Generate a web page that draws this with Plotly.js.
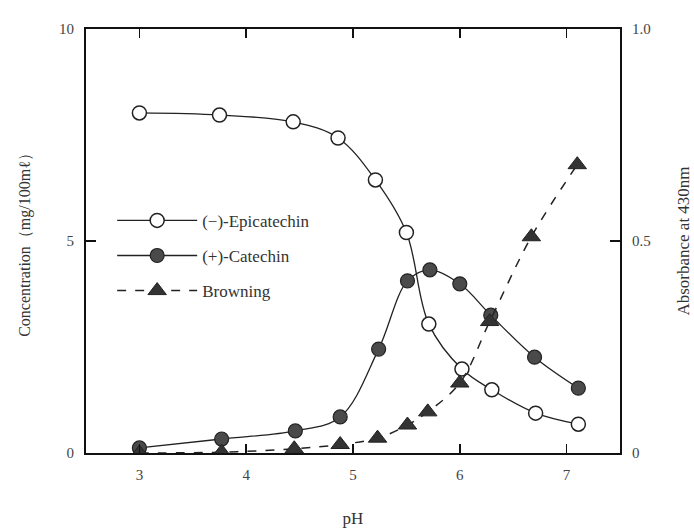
<!DOCTYPE html>
<html>
<head>
<meta charset="utf-8">
<script src="https://cdn.plot.ly/plotly-3.0.1.min.js"></script>
<style>html,body{margin:0;padding:0;background:#fff;}#chart{width:694px;height:529px;}</style>
</head>
<body>
<div id="chart"></div>
<script>
// pH values for each series
const epiPH = [3.0, 3.75, 4.44, 4.86, 5.21, 5.50, 5.71, 6.02, 6.30, 6.71, 7.11];
const epiConc = [8.02, 7.97, 7.81, 7.43, 6.44, 5.2, 3.04, 1.98, 1.49, 0.94, 0.68];

const catPH = [3.0, 3.77, 4.46, 4.88, 5.24, 5.51, 5.72, 6.00, 6.29, 6.70, 7.11];
const catConc = [0.12, 0.33, 0.52, 0.85, 2.45, 4.06, 4.32, 3.99, 3.25, 2.26, 1.53];

const brownPH = [3.0, 3.77, 4.45, 4.88, 5.23, 5.51, 5.70, 6.00, 6.28, 6.67, 7.10];
const brownAbs = [0.0, 0.002, 0.01, 0.02, 0.035, 0.066, 0.097, 0.165, 0.31, 0.51, 0.68];

const xTicks = [3, 4, 5, 6, 7];
const yTicks = [0, 5, 10];
const y2Ticks = [0, 0.5, 1.0];
const y2TickText = ['0', '0.5', '1.0'];

const serif = 'Liberation Serif, DejaVu Serif, serif';
const ink = '#222';

const traces = [
  {
    x: epiPH, y: epiConc, name: '(−)-Epicatechin', type: 'scatter', mode: 'lines+markers',
    line: {color: ink, width: 1.3, shape: 'spline', smoothing: 1},
    marker: {symbol: 'circle', size: 14, color: '#fff', line: {color: ink, width: 1.5}},
    legendgroup: 'a'
  },
  {
    x: catPH, y: catConc, name: '(+)-Catechin', type: 'scatter', mode: 'lines+markers',
    line: {color: ink, width: 1.3, shape: 'spline', smoothing: 1},
    marker: {symbol: 'circle', size: 14, color: '#4a4a4a', line: {color: ink, width: 1.2}},
    legendgroup: 'b'
  },
  {
    x: brownPH, y: brownAbs, name: 'Browning', type: 'scatter', mode: 'lines+markers', yaxis: 'y2',
    line: {color: ink, width: 1.5, dash: 'dash', shape: 'spline', smoothing: 1},
    marker: {symbol: 'triangle-up', size: 16, color: '#333', line: {color: ink, width: 1}},
    legendgroup: 'c'
  }
];

const axisCommon = {
  showgrid: false, zeroline: false, showline: true, linecolor: '#111', linewidth: 2,
  ticks: 'inside', ticklen: 9, tickwidth: 1.5, tickcolor: '#111',
  tickfont: {family: serif, size: 15, color: '#444'}
};

const layout = {
  width: 694, height: 529,
  margin: {l: 86, r: 74, t: 29, b: 76},
  paper_bgcolor: '#fff', plot_bgcolor: '#fff',
  font: {family: serif, color: '#333'},
  showlegend: true,
  legend: {
    x: 0.049, y: 0.59, xanchor: 'left', yanchor: 'top',
    bgcolor: 'rgba(0,0,0,0)', font: {family: serif, size: 17, color: '#333'},
    traceorder: 'grouped', tracegroupgap: 10, itemwidth: 80
  },
  xaxis: Object.assign({}, axisCommon, {
    range: [2.5, 7.5], tickvals: xTicks, mirror: 'ticks', ticklabelstandoff: 7,
    title: {text: 'pH', font: {family: serif, size: 17, color: '#333'}, standoff: 30}
  }),
  yaxis: Object.assign({}, axisCommon, {
    range: [0, 10], tickvals: yTicks, ticklen: 10, ticklabelstandoff: 7,
    title: {text: 'Concentration（mg/100mℓ）', font: {family: serif, size: 16, color: '#333'}, standoff: 24}
  }),
  yaxis2: Object.assign({}, axisCommon, {
    range: [0, 1], tickvals: y2Ticks, ticktext: y2TickText, overlaying: 'y', side: 'right', ticklen: 10,
    ticklabelstandoff: 7,
    title: {text: 'Absorbance at 430nm', font: {family: serif, size: 17, color: '#333'}, standoff: 27}
  })
};

Plotly.newPlot('chart', traces, layout, {displayModeBar: false, staticPlot: true});
</script>
</body>
</html>
